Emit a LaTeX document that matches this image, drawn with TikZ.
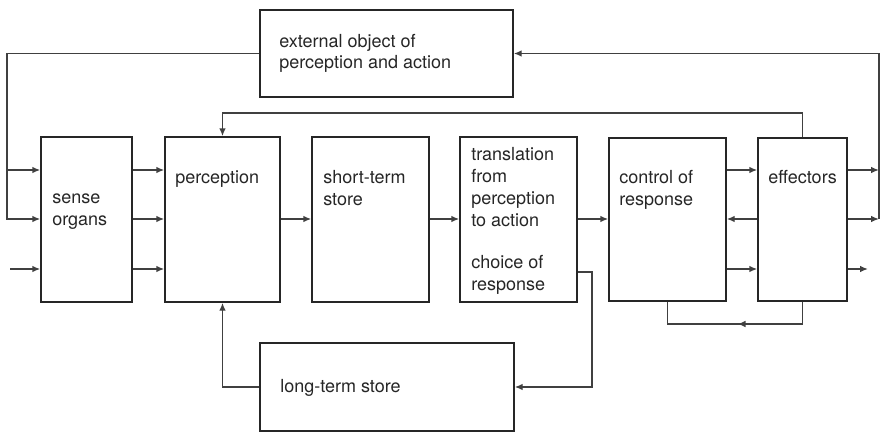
\documentclass[tikz,border=0pt]{standalone}
\usepackage{fontspec}
\setmainfont{TeX Gyre Heros}
\usetikzlibrary{arrows.meta,fit,positioning}
\tikzset{stagebox/.style={draw=black!85, line width=1.1pt, inner sep=0pt},
	lbl/.style={inner sep=0pt, align=left, anchor=base west, text=black!85,
		font=\fontsize{13.5}{16.3}\selectfont},
	link/.style={draw=black!75, line width=1.1pt},
	arr/.style={link, -{Latex[length=6pt,width=5pt]}}}
\newcommand{\stage}[3]{\node[stagebox, fit={#2 #3}] (#1) {};}

\begin{document}
\begin{tikzpicture}[x=0.75pt, y=-0.75pt]

					\useasboundingbox (0,0) rectangle (882,435);

					\stage{ext}{(260,10)}{(513,97)}
					\stage{sense}{(41,137)}{(132,302)}
					\stage{perc}{(165,137)}{(280,302)}
					\stage{sts}{(312,137)}{(429,302)}
					\stage{trans}{(460,137)}{(577,302)}
					\stage{ctrl}{(609,138)}{(726,301)}
					\stage{eff}{(758,138)}{(847,301)}
					\stage{lts}{(260,343)}{(514,431)}

					\node[lbl] (exttxt) at (279,69) {external object of\\perception and action};
					\node[lbl] (sensetxt) at (52,225) {sense\\organs};
					\node[lbl] (perctxt) at (175,183) {perception};
					\node[lbl] (ststxt) at (323,205) {short-term\\store};
					\node[lbl] (transtxt) at (471,226) {translation\\from\\perception\\to action};
					\node[lbl] (choicetxt) at (471,290) {choice of\\response};
					\node[lbl] (ctrltxt) at (619,205) {control of\\response};
					\node[lbl] (efftxt) at (768,183) {effectors};
					\node[lbl] (ltstxt) at (280,392) {long-term store};

					\coordinate (r1) at (0,170);
					\coordinate (r2) at (0,219);
					\coordinate (r3) at (0,269);
					\coordinate (lft) at (7,0);
					\coordinate (rgt) at (879,0);
					\coordinate (top) at (0,113);
					\coordinate (bot) at (0,324);
					\coordinate (in3) at (10,269);
					\coordinate (out3) at (868,269);
					\coordinate (choice) at (592,272);

					\draw[arr] (ext.west) -| (lft |- r2) -- (sense.west |- r2);
					\draw[arr] (lft |- r1) -- (sense.west |- r1);
					\draw[arr] (in3) -- (sense.west |- in3);

					\foreach \r in {r1,r2,r3}
						\draw[arr] (sense.east |- \r) -- (perc.west |- \r);

					\draw[arr] (perc.east |- r2) -- (sts.west |- r2);
					\draw[arr] (sts.east |- r2) -- (trans.west |- r2);
					\draw[arr] (trans.east |- r2) -- (ctrl.west |- r2);

					\draw[arr] (ctrl.east |- r1) -- (eff.west |- r1);
					\draw[arr] (eff.west |- r2) -- (ctrl.east |- r2);
					\draw[arr] (ctrl.east |- r3) -- (eff.west |- r3);

					\draw[arr] (eff.east |- r1) -- (rgt |- r1);
					\draw[arr] (eff.east |- r2) -- (rgt |- r2);
					\draw[arr] (rgt |- r2) |- (ext.east);
					\draw[arr] (eff.east |- out3) -- (out3);

					\draw[arr] (eff.north) |- (perc.north |- top) -- (perc.north);

					\draw[link] (eff.south) |- (ctrl.south |- bot) -- (ctrl.south);
					\draw[arr] (eff.south |- bot) -- ++(-65,0);

					\draw[arr] (trans.east |- choice) -| (choice |- lts.east) -- (lts.east);
					\draw[arr] (lts.west) -| (perc.south);

\end{tikzpicture}
\end{document}
